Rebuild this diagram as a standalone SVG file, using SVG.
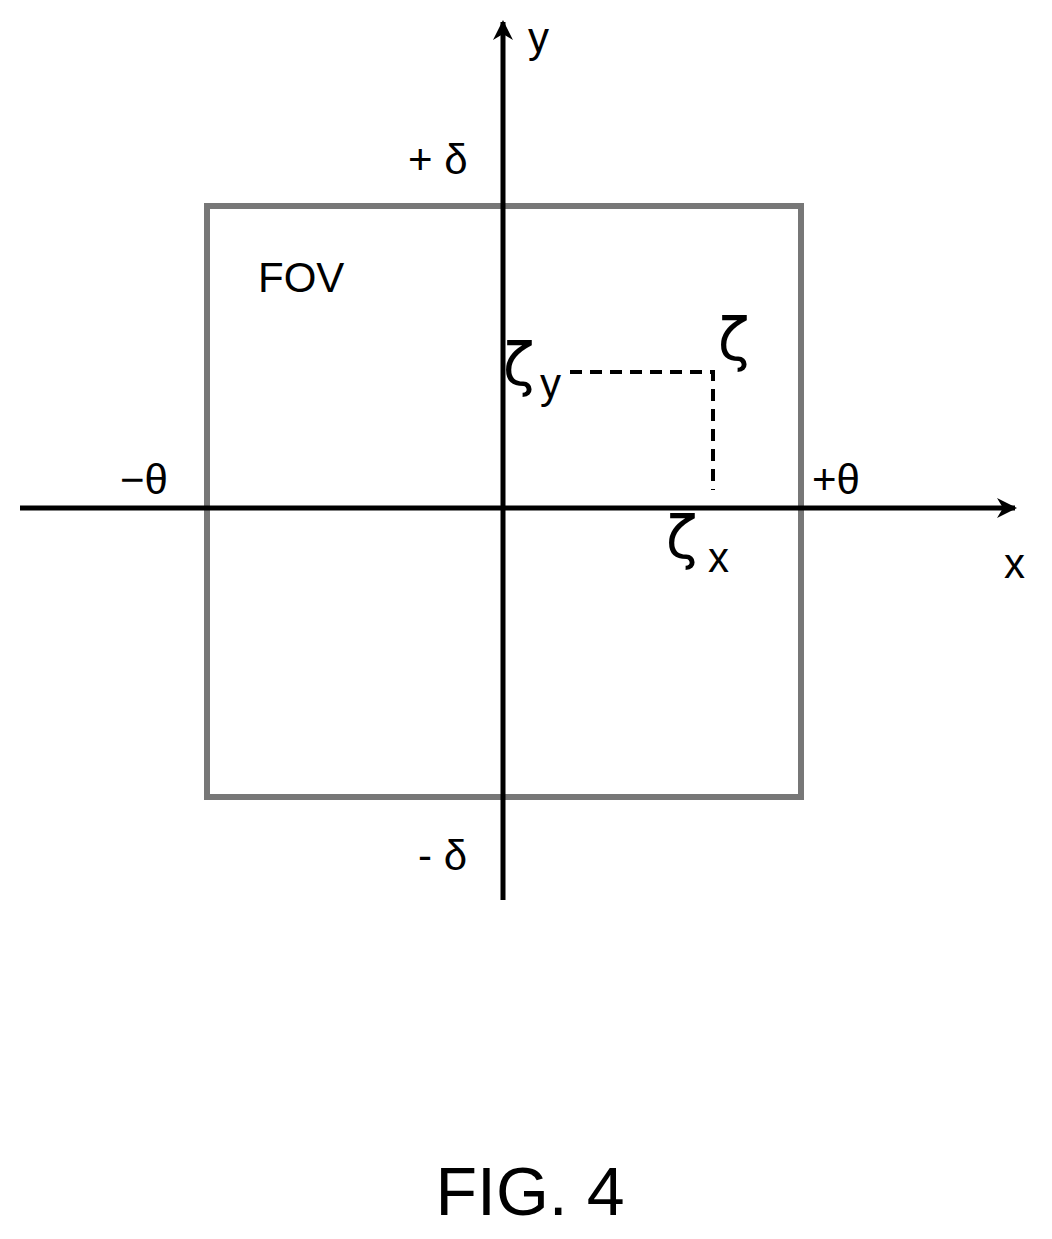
<svg xmlns="http://www.w3.org/2000/svg" width="1052" height="1239" viewBox="0 0 1052 1239">
<style>
text{font-family:"Liberation Sans","DejaVu Sans",sans-serif;fill:#000}
.l{font-size:42px}
.z{font-size:58px;font-family:"DejaVu Sans",sans-serif}
</style>
<defs><marker id="a2" viewBox="0 0 10 10" refX="9" refY="5" markerWidth="24" markerHeight="20" orient="auto" markerUnits="userSpaceOnUse"><path d="M0,0 L10,5 L0,10 L3,5 Z" fill="#000"/></marker></defs>
<rect width="1052" height="1239" fill="#fff"/>
<g id="fov"><rect x="207" y="206" width="594" height="591" fill="none" stroke="#777" stroke-width="6"/><text class="l" x="258" y="292">FOV</text></g>
<g id="connectors" stroke="#000">
<line x1="503" y1="900" x2="503" y2="22" stroke-width="5" marker-end="url(#a2)"/>
<line x1="20" y1="508" x2="1015" y2="508" stroke-width="5" marker-end="url(#a2)"/>
<path d="M570,372 H713 V490" fill="none" stroke-width="4" stroke-dasharray="12,8"/>
</g>
<g id="labels">
<text class="l" x="528" y="52">y</text>
<text class="l" x="408" y="174">+ δ</text>
<text class="l" x="418" y="870">- δ</text>
<text class="l" x="120" y="494">−θ</text>
<text class="l" x="812" y="494">+θ</text>
<text class="l" x="1004" y="578">x</text>
<text class="z" x="718" y="360">ζ</text>
<text class="z" x="503" y="385">ζ</text><text class="l" x="540" y="398">y</text>
<text class="z" x="666" y="558">ζ</text><text class="l" x="708" y="572">x</text>
<text x="530" y="1215" font-size="68" text-anchor="middle">FIG. 4</text>
</g>
</svg>
